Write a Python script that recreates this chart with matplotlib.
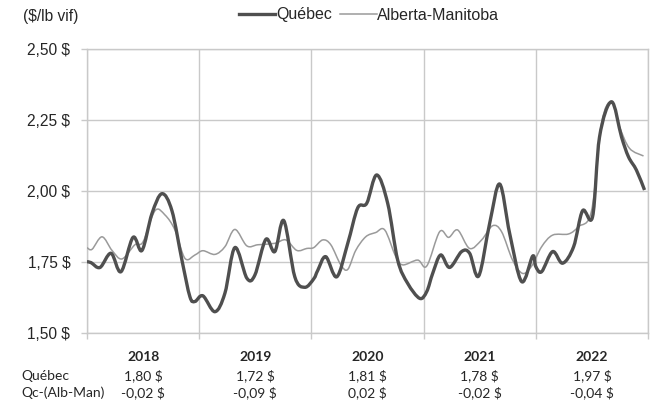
import matplotlib
matplotlib.use("Agg")
import matplotlib.pyplot as plt
from matplotlib.lines import Line2D
from matplotlib.path import Path
from matplotlib.patches import PathPatch
import matplotlib.ticker as mticker

# ---- data ----
qc_t = [2018.00, 2018.036, 2018.116, 2018.214, 2018.303, 2018.410, 2018.490, 2018.579, 2018.668,
        2018.757, 2018.846, 2018.917, 2018.962, 2019.033, 2019.140, 2019.229, 2019.318,
        2019.425, 2019.496, 2019.594, 2019.674, 2019.754, 2019.852, 2019.941, 2020.021,
        2020.057, 2020.128, 2020.226, 2020.324, 2020.413, 2020.493, 2020.582, 2020.680,
        2020.769, 2020.858, 2020.965, 2021.028, 2021.081, 2021.152, 2021.232, 2021.339,
        2021.410, 2021.491, 2021.589, 2021.678, 2021.767, 2021.874, 2021.972, 2022.000,
        2022.052, 2022.150, 2022.239, 2022.337, 2022.417, 2022.506, 2022.568, 2022.675,
        2022.764, 2022.826, 2022.897, 2022.969]
qc_v = [1.75, 1.747, 1.73, 1.78, 1.715, 1.836, 1.79, 1.92, 1.99,
        1.93, 1.756, 1.627, 1.61, 1.63, 1.574, 1.639, 1.80,
        1.692, 1.703, 1.829, 1.786, 1.895, 1.697, 1.66, 1.69,
        1.72, 1.768, 1.697, 1.815, 1.94, 1.956, 2.056, 1.956,
        1.756, 1.674, 1.621, 1.645, 1.709, 1.774, 1.73, 1.786,
        1.78, 1.70, 1.886, 2.024, 1.85, 1.68, 1.77, 1.733,
        1.715, 1.786, 1.745, 1.803, 1.93, 1.909, 2.19, 2.314,
        2.19, 2.12, 2.073, 2.003]

ab_t = [2018.00, 2018.045, 2018.134, 2018.223, 2018.312, 2018.427, 2018.499, 2018.606, 2018.695,
        2018.784, 2018.873, 2018.962, 2019.033, 2019.140, 2019.229, 2019.318, 2019.425,
        2019.523, 2019.674, 2019.772, 2019.870, 2019.959, 2020.021, 2020.101, 2020.173,
        2020.262, 2020.324, 2020.395, 2020.484, 2020.573, 2020.654, 2020.752, 2020.814,
        2020.947, 2021.028, 2021.143, 2021.223, 2021.304, 2021.410, 2021.517, 2021.615,
        2021.695, 2021.793, 2021.882, 2021.963, 2022.052, 2022.150, 2022.292, 2022.381,
        2022.497, 2022.586, 2022.675, 2022.746, 2022.835, 2022.960]
ab_v = [1.80, 1.794, 1.838, 1.79, 1.76, 1.81, 1.82, 1.93, 1.915,
        1.862, 1.762, 1.774, 1.789, 1.776, 1.803, 1.864, 1.806,
        1.81, 1.815, 1.827, 1.79, 1.797, 1.80, 1.827, 1.81,
        1.739, 1.723, 1.79, 1.838, 1.853, 1.862, 1.768, 1.739,
        1.756, 1.735, 1.856, 1.836, 1.862, 1.797, 1.827, 1.877,
        1.856, 1.756, 1.709, 1.735, 1.803, 1.844, 1.848, 1.874,
        1.93, 2.238, 2.314, 2.226, 2.15, 2.123]

years = ["2018", "2019", "2020", "2021", "2022"]
qc_avg = ["1,80 $", "1,72 $", "1,81 $", "1,78 $", "1,97 $"]
qc_diff = ["-0,02 $", "-0,09 $", "0,02 $", "-0,02 $", "-0,04 $"]
yticks = [1.50, 1.75, 2.00, 2.25, 2.50]

# ---- styles ----
C_QC = "#4f4f4f"
C_AB = "#9a9a9a"
C_GRID = "#c9c9c9"
TXT = "#262626"
FONT_MAIN = ["Liberation Sans", "DejaVu Sans"]
FONT_TAB = ["Lato", "DejaVu Sans"]


def smooth_path(xs, ys):
    """Spreadsheet-style smoothed line: cubic Bezier through every data point."""
    pts = list(zip(xs, ys))
    n = len(pts)
    verts = [pts[0]]
    codes = [Path.MOVETO]
    for i in range(n - 1):
        p0 = pts[i - 1] if i > 0 else pts[i]
        p1 = pts[i]
        p2 = pts[i + 1]
        p3 = pts[i + 2] if i + 2 < n else pts[i + 1]
        c1 = (p1[0] + (p2[0] - p0[0]) / 6, p1[1] + (p2[1] - p0[1]) / 6)
        c2 = (p2[0] - (p3[0] - p1[0]) / 6, p2[1] - (p3[1] - p1[1]) / 6)
        verts += [c1, c2, p2]
        codes += [Path.CURVE4] * 3
    return Path(verts, codes)


fig = plt.figure(figsize=(6.6, 4.04), dpi=100)
ax = fig.add_axes([87/660, 1-332.7/404, (648-87)/660, (332.7-49)/404])

ax.add_patch(PathPatch(smooth_path(ab_t, ab_v), facecolor="none", edgecolor=C_AB,
                       lw=1.1, joinstyle="round", zorder=3))
ax.add_patch(PathPatch(smooth_path(qc_t, qc_v), facecolor="none", edgecolor=C_QC,
                       lw=2.4, joinstyle="round", capstyle="butt", zorder=4))

ax.set_xlim(2018, 2023)
ax.set_ylim(1.50, 2.50)
ax.set_yticks(yticks)
ax.yaxis.set_major_formatter(mticker.FuncFormatter(lambda v, p: f"{v:.2f}".replace(".", ",") + " $"))
ax.set_xticks([2018, 2019, 2020, 2021, 2022, 2023])
ax.set_xticklabels([])
ax.grid(True, color=C_GRID, lw=1.0)
ax.set_axisbelow(True)
for s in ax.spines.values():
    s.set_color(C_GRID)
    s.set_linewidth(1.0)
ax.tick_params(axis="both", direction="out", length=4, width=1.0, color=C_GRID)
ax.tick_params(axis="y", pad=8, labelsize=11.2, labelcolor=TXT)
for lab in ax.get_yticklabels():
    lab.set_family(FONT_MAIN)

# table below
xtr = ax.get_xaxis_transform()
for i, y in enumerate(years):
    xc = 2018.5 + i
    ax.text(xc, (332.7-357)/283.7, y, transform=xtr, ha="center", va="center",
            fontsize=10, fontweight="bold", family=FONT_TAB, color=TXT)
    ax.text(xc, (332.7-376)/283.7, qc_avg[i], transform=xtr, ha="center", va="center",
            fontsize=10, family=FONT_TAB, color=TXT)
    ax.text(xc, (332.7-393)/283.7, qc_diff[i], transform=xtr, ha="center", va="center",
            fontsize=10, family=FONT_TAB, color=TXT)
fig.text(21/660, 1-376/404, "Québec", ha="left", va="center", fontsize=10, family=FONT_TAB, color=TXT)
fig.text(21/660, 1-393/404, "Qc-(Alb-Man)", ha="left", va="center", fontsize=10, family=FONT_TAB, color=TXT)

# unit label
fig.text(23/660, 1-16/404, "($/lb vif)", ha="left", va="center", fontsize=11.2, family=FONT_MAIN, color=TXT)

# legend
handles = [Line2D([], [], color=C_QC, lw=2.4), Line2D([], [], color=C_AB, lw=1.1)]
leg = fig.legend(handles, ["Québec", "Alberta-Manitoba"], loc="center", ncol=2,
                 bbox_to_anchor=(369/660, 1-15/404), frameon=False,
                 prop={"family": FONT_MAIN, "size": 11.5},
                 handlelength=2.3, handletextpad=0.05, columnspacing=0.5, borderpad=0)
for t in leg.get_texts():
    t.set_color(TXT)

fig.savefig("out.png", dpi=100)
